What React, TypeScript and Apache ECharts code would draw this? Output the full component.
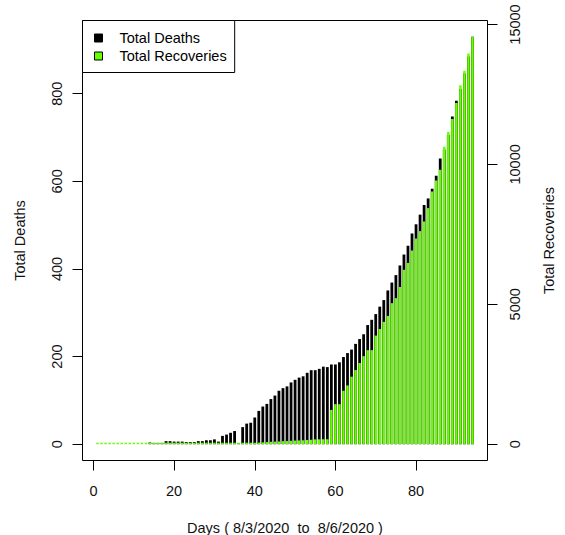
import React, { useEffect, useRef } from "react";
import * as echarts from "echarts";

// Daily cumulative totals, day 1 .. day 94
const deaths: number[] = [
  0, 0, 0, 0, 0, 0, 0, 0, 0, 0,
  0, 0, 0, 4, 3, 3, 3, 7, 7, 6,
  6, 6, 5, 5, 5, 7, 7, 9, 9, 11,
  6, 19, 22, 26, 30, 2, 39, 47, 49, 61,
  76, 86, 92, 103, 111, 122, 128, 132, 141, 147,
  152, 155, 163, 169, 169, 172, 177, 176, 182, 182,
  187, 199, 208, 216, 229, 240, 251, 272, 284, 297,
  314, 329, 351, 369, 386, 408, 433, 453, 481, 502,
  524, 546, 561, 583, 613, 652, 672, 706, 748, 784,
  811, 846, 885, 930,
];

const recoveries: number[] = [
  0, 0, 0, 0, 0, 0, 0, 0, 0, 0,
  0, 0, 0, 0, 0, 0, 0, 0, 0, 0,
  0, 0, 20, 25, 25, 26, 26, 30, 33, 33,
  33, 35, 36, 39, 42, 42, 46, 49, 50, 54,
  58, 66, 75, 87, 92, 98, 108, 112, 122, 130,
  135, 140, 150, 160, 171, 174, 177, 177, 1226, 1430,
  1430, 1910, 2101, 2414, 2650, 2902, 3147, 3361, 3361, 3882,
  4117, 4373, 4585, 5040, 5220, 5620, 6232, 6480, 6922, 7350,
  7615, 7960, 8438, 9031, 9425, 9807, 10630, 11155, 11625, 12192,
  12830, 13350, 13960, 14560,
];

const xTicks = { min: 0, max: 80, step: 20 };
const deathTicks = { min: 0, max: 800, step: 200 };
const recoveryTicks = { min: 0, max: 15000, step: 5000 };

const xTitle = "Days ( 8/3/2020  to  8/6/2020 )";
const leftTitle = "Total Deaths";
const rightTitle = "Total Recoveries";
const deathName = "Total Deaths";
const recoveryName = "Total Recoveries";

const GREEN = "#66FF00";
const FONT = "'Liberation Sans', Arial, Helvetica, sans-serif";
const TXT = "#111";
const FS = 14.5;

export default function App() {
  const ref = useRef<HTMLDivElement>(null);

  useEffect(() => {
    if (!ref.current) return;
    const chart = echarts.init(ref.current, undefined, { renderer: "svg" });

    const N = deaths.length;
    const days = deaths.map((_, i) => i + 1);
    const xMin = 1 - 0.04 * (N - 1);
    const xMax = N + 0.04 * (N - 1);
    const dMax = Math.max(...deaths);
    const rMax = Math.max(...recoveries);

    const BOX = { left: 82.5, top: 20.5, width: 405, height: 440 };
    const pxPerDay = BOX.width / (xMax - xMin);
    const xZero = BOX.left + (xTicks.min - xMin) * pxPerDay;
    const yZero = BOX.top + BOX.height * (1.04 / 1.08);
    const kd = BOX.height / (1.08 * dMax);
    const kr = BOX.height / (1.08 * rMax);

    const tickStyle = { show: true, length: 10, lineStyle: { color: "#000", width: 1 } };
    const lineStyle = { show: true, onZero: false, lineStyle: { color: "#000", width: 1 } };
    const labelStyle = { color: TXT, fontSize: FS, fontFamily: FONT };
    const hidden = { show: false };
    const hiddenLine = { show: false, onZero: false };

    const option: any = {
      animation: false,
      backgroundColor: "#fff",
      textStyle: { fontFamily: FONT },
      grid: [
        { left: BOX.left, top: BOX.top, width: BOX.width, height: BOX.height, show: true, borderColor: "#000", borderWidth: 1, backgroundColor: "transparent", containLabel: false, outerBoundsMode: "none" },
        { left: xZero, top: BOX.top, width: (xTicks.max - xTicks.min) * pxPerDay, height: BOX.height, containLabel: false, outerBoundsMode: "none" },
        { left: BOX.left, top: yZero - deathTicks.max * kd, width: BOX.width, height: deathTicks.max * kd, containLabel: false, outerBoundsMode: "none" },
        { left: BOX.left, top: yZero - recoveryTicks.max * kr, width: BOX.width, height: recoveryTicks.max * kr, containLabel: false, outerBoundsMode: "none" },
      ],
      xAxis: [
        {
          gridIndex: 0, type: "value", min: xMin, max: xMax,
          axisLine: hiddenLine, axisTick: hidden, axisLabel: hidden, splitLine: hidden,
          name: xTitle, nameLocation: "middle", nameGap: 60,
          nameTextStyle: { ...labelStyle },
        },
        {
          gridIndex: 1, type: "value", min: xTicks.min, max: xTicks.max, interval: xTicks.step,
          axisLine: lineStyle, axisTick: tickStyle, splitLine: hidden,
          axisLabel: { ...labelStyle, margin: 23, showMinLabel: true, showMaxLabel: true },
        },
        { gridIndex: 2, type: "value", min: xMin, max: xMax, show: false, axisLine: hiddenLine },
        { gridIndex: 3, type: "value", min: xMin, max: xMax, show: false, axisLine: hiddenLine },
        { gridIndex: 0, type: "value", min: xMin, max: xMax, show: false, axisLine: hiddenLine },
      ],
      yAxis: [
        {
          gridIndex: 0, type: "value", min: -0.04 * dMax, max: 1.04 * dMax, position: "left",
          axisLine: hiddenLine, axisTick: hidden, axisLabel: hidden, splitLine: hidden,
          name: leftTitle, nameLocation: "middle", nameRotate: 90, nameGap: 55,
          nameTextStyle: { ...labelStyle },
        },
        {
          gridIndex: 0, type: "value", min: -0.04 * rMax, max: 1.04 * rMax, position: "right",
          axisLine: hiddenLine, axisTick: hidden, axisLabel: hidden, splitLine: hidden,
          name: rightTitle, nameLocation: "middle", nameRotate: 90, nameGap: 54,
          nameTextStyle: { ...labelStyle },
        },
        { gridIndex: 1, type: "value", show: false, axisLine: hiddenLine },
        {
          gridIndex: 2, type: "value", min: deathTicks.min, max: deathTicks.max, interval: deathTicks.step,
          position: "left", axisLine: lineStyle, axisTick: tickStyle, splitLine: hidden,
          axisLabel: { ...labelStyle, rotate: 90, margin: 18, formatter: (v: number) => String(v) },
        },
        {
          gridIndex: 3, type: "value", min: recoveryTicks.min, max: recoveryTicks.max, interval: recoveryTicks.step,
          position: "right", axisLine: lineStyle, axisTick: tickStyle, splitLine: hidden,
          axisLabel: { ...labelStyle, rotate: 90, margin: 20, formatter: (v: number) => String(v) },
        },
      ],
      legend: {
        left: BOX.left, top: BOX.top, orient: "vertical",
        padding: [10, 8, 9, 11.5], itemGap: 3, itemWidth: 8, itemHeight: 8,
        borderColor: "#000", borderWidth: 1, backgroundColor: "#fff",
        selectedMode: false,
        textStyle: { ...labelStyle, color: "#000", padding: [0, 0, 0, 12] },
        data: [
          { name: deathName, icon: "rect", itemStyle: { color: "#000", borderColor: "#000", borderWidth: 1 } },
          { name: recoveryName, icon: "rect", itemStyle: { color: GREEN, borderColor: "#000", borderWidth: 1 } },
        ],
      },
      series: [
        {
          name: deathName, type: "bar", xAxisIndex: 0, yAxisIndex: 0,
          data: days.map((d, i) => [d, deaths[i]]),
          barWidth: 2.8, itemStyle: { color: "#000" },
        },
        {
          name: recoveryName, type: "bar", xAxisIndex: 4, yAxisIndex: 1,
          data: days.map((d, i) => [d, recoveries[i]]),
          barWidth: 2.5, barMinHeight: 1.5, itemStyle: { color: GREEN },
        },
      ],
    };

    chart.setOption(option);
    return () => chart.dispose();
  }, []);

  return (
    <div
      ref={ref}
      style={{ position: "fixed", left: 0, top: 0, width: 565, height: 535, background: "#fff" }}
    />
  );
}
